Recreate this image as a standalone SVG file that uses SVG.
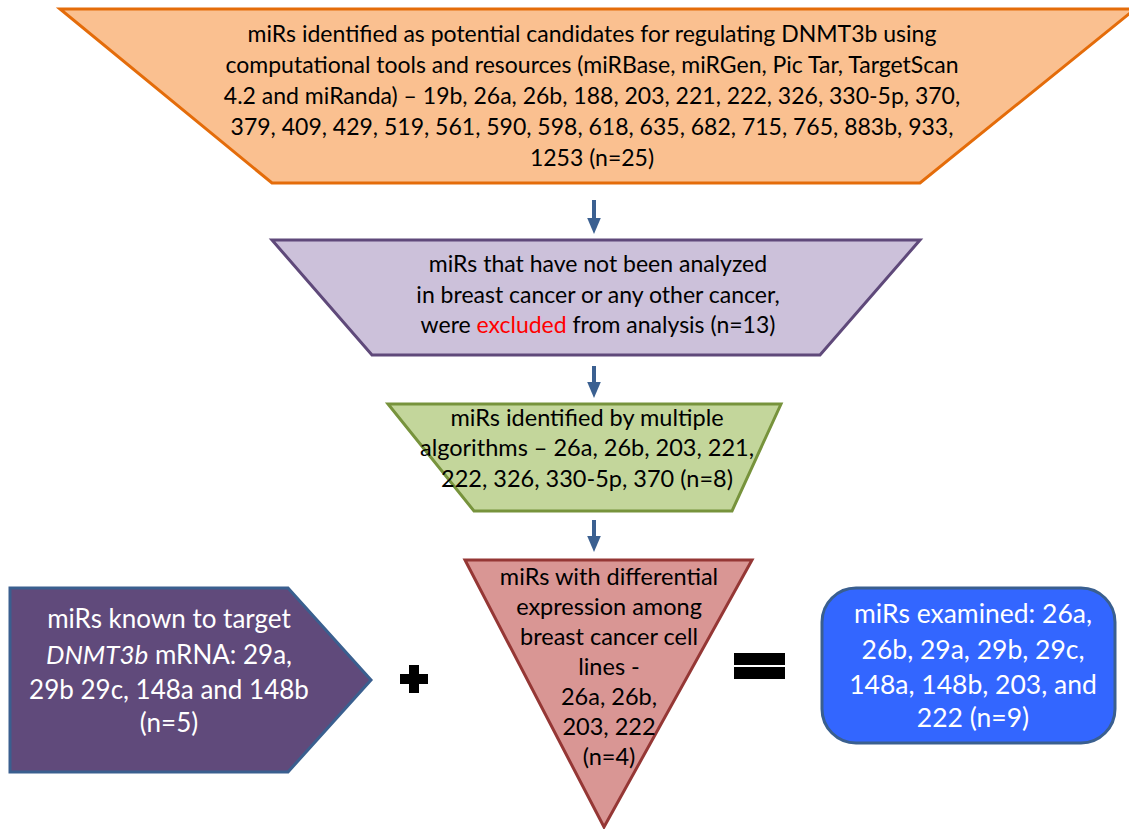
<svg xmlns="http://www.w3.org/2000/svg" width="1129" height="829" viewBox="0 0 1129 829">
<style>
text{font-family:Lato,"Open Sans","Liberation Sans",sans-serif;font-size:23px;text-anchor:middle;fill:#000}
.g{font-size:23.5px}
.r{font-size:23.5px}
.w{fill:#fff;font-size:26px}
.b{fill:#fff;font-size:26.5px}
.arrow{stroke:#3B6091;stroke-width:4;fill:none}
</style>
<defs>
<marker id="ah" markerWidth="4" markerHeight="4" refX="2" refY="2" orient="auto" markerUnits="strokeWidth">
<path d="M0,0.3 L4,2 L0,3.7 Z" fill="#3B6091"/>
</marker>
</defs>
<rect width="1129" height="829" fill="#fff"/>
<g id="n1">
<polygon points="60,9 1135,9 920,183 272,183" fill="#FAC090" stroke="#E46C0A" stroke-width="3"/>
<text x="592" y="42">miRs identified as potential candidates for regulating DNMT3b using</text>
<text x="592" y="73">computational tools and resources (miRBase, miRGen, Pic Tar, TargetScan</text>
<text x="592" y="104">4.2 and miRanda) – 19b, 26a, 26b, 188, 203, 221, 222, 326, 330-5p, 370,</text>
<text x="592" y="135">379, 409, 429, 519, 561, 590, 598, 618, 635, 682, 715, 765, 883b, 933,</text>
<text x="592" y="166">1253 (n=25)</text>
</g>
<g id="n2">
<polygon points="272,240 920,240 820,355 372,355" fill="#CCC1DA" stroke="#5F497A" stroke-width="3"/>
<text x="598" y="272">miRs  that have not been analyzed</text>
<text x="598" y="303">in breast cancer or any other cancer,</text>
<text x="598" y="333">were <tspan fill="#FF0000">excluded</tspan> from analysis (n=13)</text>
</g>
<g id="n3">
<polygon points="388,404 781,404 732,511 474,511" fill="#C3D69B" stroke="#77933C" stroke-width="3"/>
<text class="g" x="587" y="426">miRs identified by multiple</text>
<text class="g" x="587" y="456">algorithms – 26a, 26b, 203, 221,</text>
<text class="g" x="587" y="487">222, 326, 330-5p, 370 (n=8)</text>
</g>
<g id="n4">
<polygon points="465,560 752,560 604,827" fill="#D99694" stroke="#953735" stroke-width="3"/>
<text class="r" x="609" y="585">miRs with differential</text>
<text class="r" x="609" y="615">expression among</text>
<text class="r" x="609" y="645">breast cancer cell</text>
<text class="r" x="609" y="675">lines -</text>
<text class="r" x="609" y="705">26a, 26b,</text>
<text class="r" x="609" y="735">203, 222</text>
<text class="r" x="609" y="765">(n=4)</text>
</g>
<g id="n5">
<polygon points="10,588 288,588 371,680 288,772 10,772" fill="#604A7B" stroke="#3A5F8F" stroke-width="3"/>
<text class="w" x="169" y="628">miRs known to target</text>
<text class="w" x="169" y="664"><tspan font-style="italic">DNMT3b</tspan> mRNA: 29a,</text>
<text class="w" x="169" y="699">29b 29c, 148a and 148b</text>
<text class="w" x="169" y="732">(n=5)</text>
</g>
<g id="n6">
<rect x="822" y="588" width="293" height="155" rx="34" fill="#3366FF" stroke="#3A5F8F" stroke-width="3"/>
<text class="b" x="973" y="623">miRs  examined: 26a,</text>
<text class="b" x="973" y="659">26b, 29a, 29b, 29c,</text>
<text class="b" x="973" y="694">148a, 148b, 203, and</text>
<text class="b" x="973" y="727">222 (n=9)</text>
</g>
<g id="plus">
<path d="M409,665 h10 v9 h9 v10 h-9 v9 h-10 v-9 h-9 v-10 h9 Z" fill="#000"/>
</g>
<g id="equals">
<rect x="734" y="653" width="51" height="12" fill="#000"/>
<rect x="734" y="667" width="51" height="12" fill="#000"/>
</g>
<g id="connectors">
<line class="arrow" x1="594" y1="200" x2="594" y2="226" marker-end="url(#ah)"/>
<line class="arrow" x1="594" y1="366" x2="594" y2="390" marker-end="url(#ah)"/>
<line class="arrow" x1="594" y1="520" x2="594" y2="544" marker-end="url(#ah)"/>
</g>
</svg>
